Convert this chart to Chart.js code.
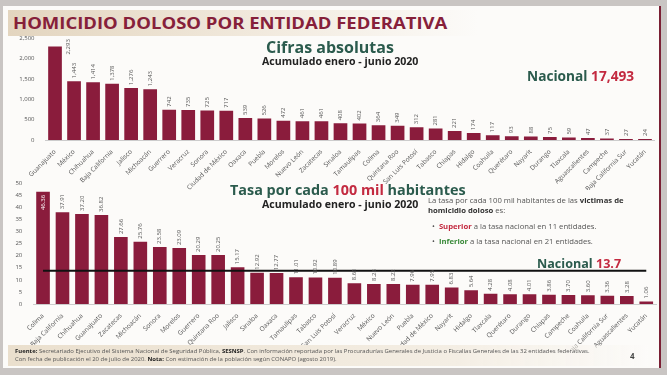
<!DOCTYPE html>
<html>
<head>
<meta charset="utf-8">
<script src="https://cdn.jsdelivr.net/npm/chart.js@4.4.1/dist/chart.umd.min.js"></script>
<style>
  body { margin: 0; width: 667px; height: 375px; overflow: hidden; background: #c9c5c3; font-family: "Open Sans", sans-serif; position: relative; }
  #slide { position: absolute; left: 3px; top: 6px; width: 656px; height: 362px; background: #fcfbf9; border-right: 2px solid #7a1f34; }
  .abs { position: absolute; white-space: nowrap; }
  #titleband { left: 8px; top: 10px; width: 470px; height: 26px; background: linear-gradient(to right, #e3d5bf, #f3ece1 60%, rgba(252,251,249,0)); }
  #title { left: 13px; top: 11px; font-size: 16.5px; font-weight: 700; color: #86203a; transform: scaleX(1.12); transform-origin: left center; }
  .green { color: #2b5b4d; }
  .red { color: #c32a40; }
  .sub { font-size: 10.6px; font-weight: 700; color: #222; }
  .big { font-weight: 700; }
  #note { left: 428px; top: 195px; font-size: 7.7px; color: #555; line-height: 10px; }
  #note b { color: #333; }
  .bul { font-size: 7.7px; color: #555; }
  #footband { left: 8px; top: 345px; width: 640px; height: 21px; background: linear-gradient(to right, #eadfcd, #f4eee4 70%, rgba(252,251,249,0.3)); }
  #foot { left: 15px; top: 347px; font-size: 5.95px; color: #555; line-height: 8px; }
  #foot b { color: #222; }
  canvas { position: absolute; }
</style>
</head>
<body>
<div id="slide"></div>
<div class="abs" id="titleband"></div>
<div class="abs" id="title">HOMICIDIO DOLOSO POR ENTIDAD FEDERATIVA</div>

<canvas id="absChart" width="667" height="160" style="left:0;top:30px"></canvas>
<canvas id="rateChart" width="667" height="175" style="left:0;top:175px"></canvas>

<div class="abs big green" style="left:266px;top:36px;font-size:16px">Cifras absolutas</div>
<div class="abs sub" style="left:262px;top:54px">Acumulado enero - junio 2020</div>
<div class="abs big green" style="left:527px;top:66px;font-size:13.7px">Nacional <span class="red">17,493</span></div>

<div class="abs big green" style="left:230px;top:180px;font-size:14.4px">Tasa por cada <span class="red">100 mil</span> habitantes</div>
<div class="abs sub" style="left:262px;top:197px">Acumulado enero - junio 2020</div>
<div class="abs" id="note">La tasa por cada 100 mil habitantes de las <b>victimas de</b><br><b>homicidio doloso</b> es:</div>
<div class="abs bul" style="left:432px;top:221px">•&nbsp; <b class="red">Superior</b> a la tasa nacional en 11 entidades.</div>
<div class="abs bul" style="left:432px;top:236px">•&nbsp; <b style="color:#3a8a3a">Inferior</b> a la tasa nacional en 21 entidades.</div>
<div class="abs big green" style="left:537px;top:255px;font-size:12.6px">Nacional <span class="red">13.7</span></div>

<div class="abs" id="footband"></div>
<div class="abs" id="foot"><b>Fuente:</b> Secretariado Ejecutivo del Sistema Nacional de Seguridad Pública, <b>SESNSP</b>. Con información reportada por las Procuradurías Generales de Justicia o Fiscalías Generales de las 32 entidades federativas.<br>Con fecha de publicación el 20 de julio de 2020. <b>Nota:</b> Con estimación de la población según CONAPO (agosto 2019).</div>
<div class="abs" style="left:630px;top:350px;font-size:8px;font-weight:700;color:#444">4</div>

<script>
const absStates = ['Guanajuato', 'México', 'Chihuahua', 'Baja California', 'Jalisco', 'Michoacán', 'Guerrero', 'Veracruz',
  'Sonora', 'Ciudad de México', 'Oaxaca', 'Puebla', 'Morelos', 'Nuevo León', 'Zacatecas', 'Sinaloa', 'Tamaulipas', 'Colima',
  'Quintana Roo', 'San Luis Potosí', 'Tabasco', 'Chiapas', 'Hidalgo', 'Coahuila', 'Querétaro', 'Nayarit', 'Durango',
  'Tlaxcala', 'Aguascalientes', 'Campeche', 'Baja California Sur', 'Yucatán'];
const absValues = [2293, 1443, 1414, 1378, 1276, 1243, 742, 735, 725, 717, 539, 526, 472, 461, 461, 408, 402, 364,
  349, 312, 281, 221, 174, 117, 93, 88, 75, 59, 47, 37, 27, 24];

const rateStates = ['Colima', 'Baja California', 'Chihuahua', 'Guanajuato', 'Zacatecas', 'Michoacán', 'Sonora', 'Morelos',
  'Guerrero', 'Quintana Roo', 'Jalisco', 'Sinaloa', 'Oaxaca', 'Tamaulipas', 'Tabasco', 'San Luis Potosí', 'Veracruz',
  'México', 'Nuevo León', 'Puebla', 'Ciudad de México', 'Nayarit', 'Hidalgo', 'Tlaxcala', 'Querétaro', 'Durango',
  'Chiapas', 'Campeche', 'Coahuila', 'Baja California Sur', 'Aguascalientes', 'Yucatán'];
const rateValues = [46.36, 37.91, 37.20, 36.82, 27.66, 25.76, 23.58, 23.09, 20.29, 20.25, 15.17, 12.92, 12.77, 11.01,
  10.92, 10.89, 8.61, 8.28, 8.22, 7.96, 7.95, 6.83, 5.64, 4.28, 4.08, 4.01, 3.86, 3.70, 3.60, 3.36, 3.28, 1.06];
const nationalRate = 13.7;

const barColor = '#8a1c3c';
const tickFont = { family: 'Open Sans', size: 6.5 };

// vertical value labels above bars
const valueLabels = {
  id: 'valueLabels',
  afterDatasetsDraw(chart, args, opts) {
    const ctx = chart.ctx;
    const meta = chart.getDatasetMeta(0);
    const data = chart.data.datasets[0].data;
    ctx.save();
    ctx.font = '6px "Open Sans"';
    ctx.textAlign = 'left';
    ctx.textBaseline = 'middle';
    meta.data.forEach((bar, i) => {
      const txt = opts.format(data[i]);
      const w = ctx.measureText(txt).width;
      let x = bar.x, y = bar.y - 3;
      ctx.fillStyle = '#555';
      if (y - w < 1) {
        if (opts.overflow === 'inside') {
          y = bar.y + w + 3;
          ctx.fillStyle = '#fff';
        } else {
          x = bar.x + bar.width / 2 + 6;
          y = bar.y + 8;
        }
      }
      ctx.save();
      ctx.translate(x, y);
      ctx.rotate(-Math.PI / 2);
      ctx.fillText(txt, 0, 0);
      ctx.restore();
    });
    ctx.restore();
  }
};

function fixX(h) {
  return function (scale) {
    scale.height = h;
    scale.paddingLeft = 0;
    scale.paddingRight = 0;
  };
}

new Chart(document.getElementById('absChart'), {
  type: 'bar',
  data: {
    labels: absStates,
    datasets: [{ data: absValues, backgroundColor: barColor, barPercentage: 0.72, categoryPercentage: 1 }]
  },
  options: {
    responsive: false,
    animation: false,
    layout: { padding: { left: 0, right: 12.5, top: 8, bottom: 0 } },
    plugins: {
      legend: { display: false },
      tooltip: { enabled: false },
      valueLabels: { format: v => v.toLocaleString('en-US'), overflow: 'beside' }
    },
    scales: {
      x: {
        grid: { display: false },
        border: { color: '#ccc' },
        ticks: { font: tickFont, color: '#555', minRotation: 45, maxRotation: 45, autoSkip: false, padding: 0 },
        afterFit: fixX(50)
      },
      y: {
        min: 0, max: 2500,
        grid: { display: false },
        border: { display: false },
        ticks: { stepSize: 500, font: { family: 'Open Sans', size: 6 }, color: '#555',
          callback: v => v.toLocaleString('en-US') },
        afterFit: s => { s.width = 45.5; }
      }
    }
  },
  plugins: [valueLabels]
});

new Chart(document.getElementById('rateChart'), {
  type: 'bar',
  data: {
    labels: rateStates,
    datasets: [
      { data: rateValues, backgroundColor: barColor, barPercentage: 0.7, categoryPercentage: 1, order: 1 },
      { type: 'line', data: rateStates.map(() => nationalRate), borderColor: '#111', borderWidth: 2,
        pointRadius: 0, order: 0 }
    ]
  },
  options: {
    responsive: false,
    animation: false,
    layout: { padding: { left: 0, right: 11, top: 8, bottom: 0 } },
    plugins: {
      legend: { display: false },
      tooltip: { enabled: false },
      valueLabels: { format: v => v.toFixed(2), overflow: 'inside' }
    },
    scales: {
      x: {
        grid: { display: false },
        border: { color: '#ccc' },
        ticks: { font: tickFont, color: '#555', minRotation: 45, maxRotation: 45, autoSkip: false, padding: 0 },
        afterFit: fixX(46)
      },
      y: {
        min: 0, max: 50,
        grid: { display: false },
        border: { display: false },
        ticks: { stepSize: 5, font: { family: 'Open Sans', size: 6 }, color: '#555' },
        afterFit: s => { s.width = 33.3; }
      }
    }
  },
  plugins: [valueLabels]
});
</script>
</body>
</html>
